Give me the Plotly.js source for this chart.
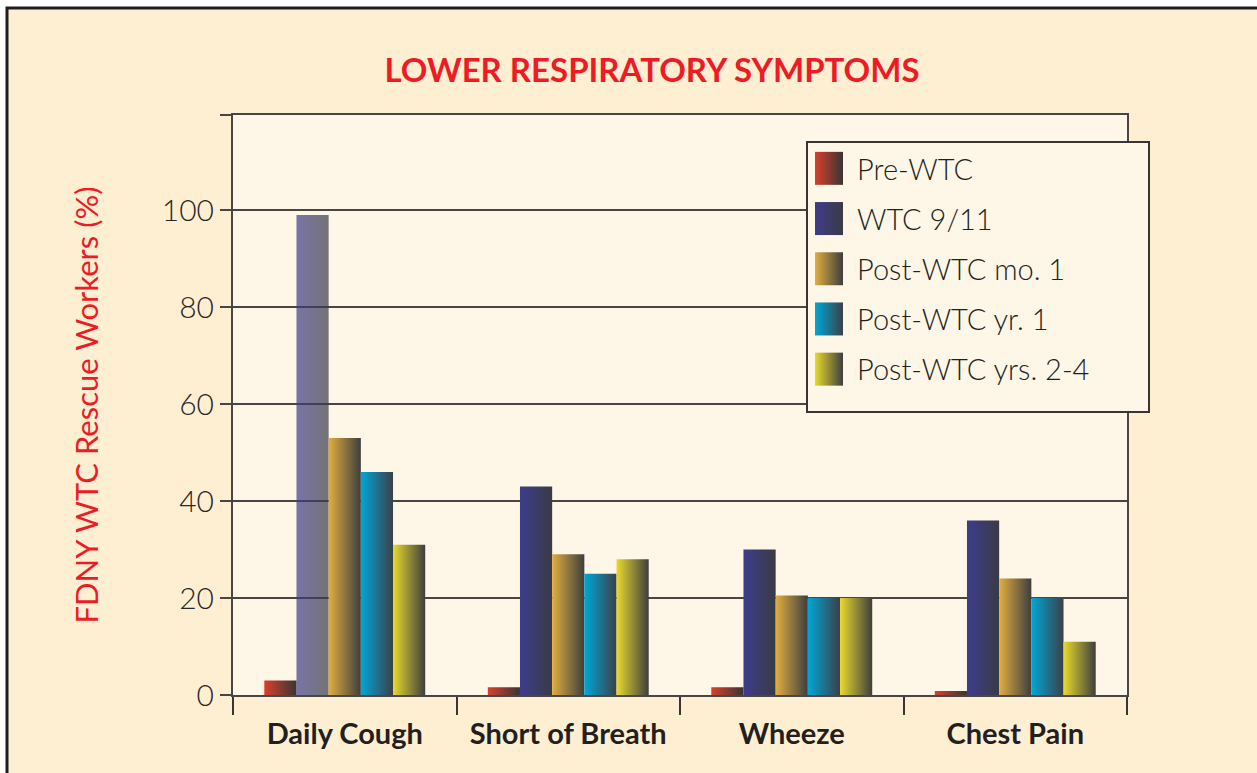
<!DOCTYPE html>
<html><head><meta charset="utf-8">
<script src="https://cdn.plot.ly/plotly-3.0.1.min.js"></script>
<style>html,body{margin:0;padding:0;background:#fff}</style></head>
<body>
<div id="chart" style="width:1257px;height:773px"></div>
<script>
const categories = ['Daily Cough', 'Short of Breath', 'Wheeze', 'Chest Pain'];
const seriesNames = ['Pre-WTC', 'WTC 9/11', 'Post-WTC mo. 1', 'Post-WTC yr. 1', 'Post-WTC yrs. 2-4'];
const preWTC = [3, 1.6, 1.6, 0.8];
const wtc911 = [99, 43, 30, 36];
const postMo1 = [53, 29, 20.5, 24];
const postYr1 = [46, 25, 20, 20];
const postYrs24 = [31, 28, 20, 11];
const yTickVals = [0, 20, 40, 60, 80, 100, 119.6];
const yTickText = ['0', '20', '40', '60', '80', '100', ''];

const seriesValues = [preWTC, wtc911, postMo1, postYr1, postYrs24];
const leftColors = ['#D8402C', '#3D3D8C', '#E0AE40', '#00A6D6', '#E8DA2E'];
const rightColors = ['#3A3434', '#3A3A44', '#3E3E3E', '#3B4048', '#3E3E3E'];
const FONT = 'Lato, "Open Sans", sans-serif';

const traces = seriesValues.map((vals, i) => ({
  type: 'bar',
  name: seriesNames[i],
  x: categories,
  y: vals,
  legendgroup: 'g' + i,
  marker: {
    color: leftColors[i],
    opacity: i === 1 ? [0.7, 1, 1, 1] : 1,
    line: {width: 0}
  },
  hoverinfo: 'skip'
}));

const L = 233, R = 1127, T = 115, B = 695;
const px = v => (v - L) / (R - L);
const py = v => (B - v) / (B - T);

const layout = {
  width: 1257, height: 773,
  margin: {l: L, r: 1257 - R, t: T, b: 773 - B},
  paper_bgcolor: '#ffffff',
  plot_bgcolor: 'rgba(0,0,0,0)',
  barmode: 'group',
  bargap: 0.28,
  bargroupgap: 0,
  font: {family: FONT, color: '#231f20'},
  title: {
    text: 'LOWER RESPIRATORY SYMPTOMS',
    font: {family: FONT, size: 33, color: '#ED1C24', weight: 700},
    xref: 'paper', x: px(652), xanchor: 'center',
    yref: 'container', y: 1 - 70 / 773, yanchor: 'middle'
  },
  xaxis: {
    type: 'category',
    tickson: 'boundaries',
    ticks: 'outside', ticklen: 18, tickwidth: 2, tickcolor: '#3a3535',
    showline: true, linecolor: '#4a4545', linewidth: 2, mirror: true,
    showgrid: false, zeroline: false,
    ticklabelstandoff: 12,
    tickfont: {family: FONT, size: 29, color: '#231f20', weight: 700},
    fixedrange: true
  },
  yaxis: {
    range: [0, 119.6],
    tickvals: yTickVals, ticktext: yTickText,
    ticks: 'outside', ticklen: 11, tickwidth: 2, tickcolor: '#4a4545',
    showline: true, linecolor: '#4a4545', linewidth: 2, mirror: true,
    showgrid: true, gridcolor: '#4a4545', gridwidth: 2,
    zeroline: false,
    tickfont: {family: FONT, size: 30, color: '#2a2626', weight: 300},
    title: {text: 'FDNY WTC Rescue Workers (%)', font: {family: FONT, size: 31, color: '#ED1C24'}, standoff: 54},
    fixedrange: true
  },
  legend: {
    x: px(801), xanchor: 'left', y: py(143), yanchor: 'top',
    bgcolor: 'rgba(0,0,0,0)', borderwidth: 0,
    font: {family: FONT, size: 29, color: '#231f20', weight: 300},
    tracegroupgap: 9.5, itemwidth: 46
  },
  shapes: [
    {type: 'rect', xref: 'paper', yref: 'paper', layer: 'below',
     x0: px(7), x1: px(1300), y0: py(820), y1: py(8),
     fillcolor: '#FEEFD3', line: {color: '#1e1e1e', width: 3}},
    {type: 'rect', xref: 'paper', yref: 'paper', layer: 'below',
     x0: 0, x1: 1, y0: 0, y1: 1,
     fillcolor: '#FEF6E6', line: {width: 0}},
    {type: 'rect', xref: 'paper', yref: 'paper', layer: 'above',
     x0: px(807), x1: px(1149), y0: py(412), y1: py(142),
     fillcolor: '#FEF6E6', line: {color: '#3a3535', width: 2}}
  ],
  showlegend: true
};

function applyGradients(gd) {
  const ns = 'http://www.w3.org/2000/svg';
  const svg = gd.querySelector('.main-svg');
  const defs = document.createElementNS(ns, 'defs');
  svg.insertBefore(defs, svg.firstChild);
  leftColors.forEach((c, i) => {
    const lg = document.createElementNS(ns, 'linearGradient');
    lg.setAttribute('id', 'bargrad' + i);
    lg.setAttribute('x1', '0'); lg.setAttribute('y1', '0');
    lg.setAttribute('x2', '1'); lg.setAttribute('y2', '0');
    [[0, c], [1, rightColors[i]]].forEach(([o, col]) => {
      const s = document.createElementNS(ns, 'stop');
      s.setAttribute('offset', o);
      s.setAttribute('stop-color', col);
      lg.appendChild(s);
    });
    defs.appendChild(lg);
  });
  gd.querySelectorAll('.barlayer .trace').forEach((t, i) => {
    t.querySelectorAll('path').forEach(p => { p.style.fill = 'url(#bargrad' + i + ')'; });
  });
  gd.querySelectorAll('.legend .traces').forEach((t, i) => {
    const p = t.querySelector('path.legendbar') || t.querySelector('.legendpoints path');
    if (p) {
      p.setAttribute('d', 'M14,16.5H-14V-16.5H14Z');
      p.style.fill = 'url(#bargrad' + i + ')';
      p.style.stroke = 'none';
      p.style.fillOpacity = 1;
    }
  });
}

Plotly.newPlot('chart', traces, layout, {displayModeBar: false, staticPlot: true}).then(applyGradients);
</script>
</body></html>
